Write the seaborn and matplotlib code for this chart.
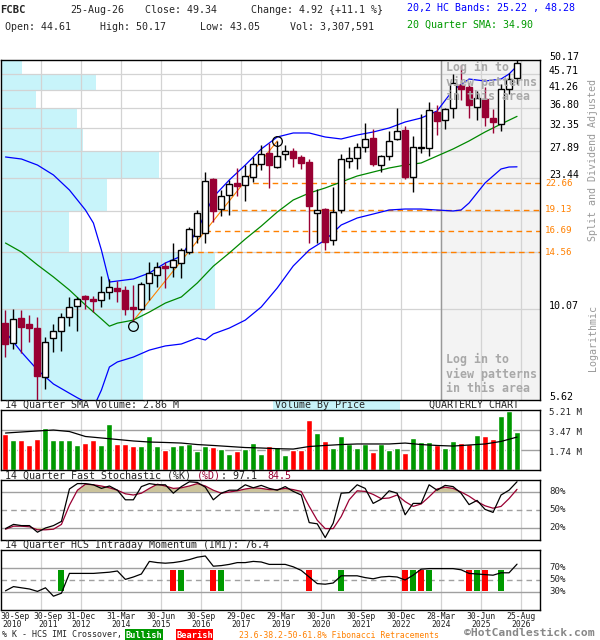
import numpy as np
import matplotlib
matplotlib.use("Agg")
import matplotlib.pyplot as plt
from matplotlib.patches import Rectangle
import seaborn as sns

sns.set_style("white")
plt.rcParams['font.family'] = ['DejaVu Sans Mono', 'DejaVu Sans']

## Quarterly candles, 30-Sep-2010 .. 25-Aug-2026 (split and dividend adjusted)
opens = [9.22, 8.11, 9.53, 9.16, 8.93, 6.52, 8.38, 8.76, 9.59, 10.29,
         10.98, 10.77, 10.70, 11.26, 11.56, 11.41, 10.23, 10.10, 11.94, 12.57,
         13.32, 13.23, 13.58, 14.57, 16.15, 16.47, 23.32, 19.22, 21.03, 22.73,
         22.44, 23.62, 25.68, 27.57, 25.19, 27.40, 27.93, 26.87, 26.01, 18.73,
         19.22, 15.74, 19.10, 26.18, 26.70, 28.65, 30.36, 25.51, 27.04, 30.17,
         31.97, 23.62, 28.47, 28.47, 35.89, 34.09, 36.83, 42.70, 42.16, 37.07,
         39.03, 34.53, 33.22, 41.62, 44.61]
highs = [10.03, 10.10, 10.03, 9.71, 9.59, 8.43, 9.16, 9.84, 10.91, 10.91,
         11.05, 10.98, 12.49, 12.25, 12.09, 11.71, 11.78, 12.01, 13.66, 13.66,
         13.66, 15.44, 14.95, 17.12, 19.10, 24.39, 23.47, 21.72, 23.17, 25.03,
         25.51, 26.87, 29.03, 29.41, 29.78, 29.03, 28.47, 27.22, 26.52, 21.86,
         19.30, 22.15, 27.40, 28.65, 29.41, 33.44, 32.18, 27.22, 31.77, 36.83,
         32.80, 30.76, 35.44, 38.28, 37.55, 36.80, 45.84, 48.58, 43.26, 41.10,
         42.16, 36.60, 42.98, 46.14, 50.17]
lows = [7.41, 7.80, 7.60, 8.16, 5.62, 6.03, 7.65, 7.70, 9.04, 8.76,
        10.10, 9.90, 10.23, 10.77, 10.56, 9.71, 9.36, 10.03, 10.70, 11.63,
        11.56, 12.41, 12.33, 14.40, 15.44, 15.44, 17.68, 18.38, 18.49, 20.90,
        20.24, 22.87, 24.71, 22.01, 25.03, 26.35, 25.19, 24.87, 15.44, 15.44,
        14.76, 15.24, 18.73, 25.03, 24.87, 27.75, 25.35, 24.39, 26.35, 29.98,
        23.32, 21.44, 27.57, 27.04, 30.95, 32.18, 34.53, 38.78, 34.53, 34.09,
        32.80, 31.36, 31.77, 40.31, 43.05]
closes = [8.06, 9.47, 8.99, 8.93, 6.56, 8.16, 8.76, 9.59, 10.23, 10.77,
          10.77, 10.63, 11.26, 11.63, 11.34, 10.10, 10.10, 11.86, 12.73, 13.23,
          13.14, 13.84, 14.76, 16.90, 18.73, 23.02, 18.98, 20.90, 22.58, 22.29,
          23.77, 25.68, 27.40, 25.51, 27.04, 27.93, 26.70, 25.85, 19.60, 19.10,
          15.54, 18.85, 26.52, 26.70, 28.65, 30.17, 25.68, 27.04, 29.79, 31.77,
          23.62, 28.65, 28.65, 36.36, 33.87, 36.60, 43.26, 41.62, 37.55, 39.28,
          34.76, 33.66, 41.62, 44.42, 49.34]
# volume, millions of shares per quarter
volume = [3.13, 2.61, 2.61, 2.17, 2.69, 3.65, 2.61, 2.61, 2.61, 2.17,
          2.32, 2.61, 2.17, 4.00, 2.26, 2.26, 2.08, 2.08, 2.95, 2.08,
          1.74, 2.08, 2.17, 2.26, 1.68, 2.08, 1.97, 1.82, 1.39, 1.65,
          1.82, 2.35, 1.39, 2.08, 1.97, 1.30, 1.74, 1.74, 4.34, 3.21,
          2.52, 1.94, 2.95, 2.23, 1.94, 2.23, 1.59, 2.23, 1.74, 1.94,
          1.50, 2.81, 2.46, 2.46, 2.17, 1.94, 2.52, 2.37, 2.26, 3.04,
          2.95, 2.69, 4.69, 5.12, 3.31]

## 20,2 HC bands and 20 quarter SMA
upper_idx = [0, 2, 4, 6, 8, 9, 10, 11, 12, 13, 14, 16, 18, 20, 22, 24, 26, 28, 30, 32,
             34, 36, 38, 40, 42, 44, 46, 48, 50, 52, 54, 56, 58, 60, 62, 63, 64]
upper_band = [26.87, 26.52, 25.51, 23.93, 21.72, 20.37, 19.10, 17.56, 14.76, 12.01, 12.09,
              12.25, 12.73, 13.58, 14.19, 16.79, 20.77, 23.17, 25.51, 28.29, 30.56, 31.36,
              31.36, 30.56, 30.17, 30.95, 31.56, 32.38, 33.66, 34.53, 36.13, 41.36, 44.38,
              43.82, 44.38, 45.84, 48.28]
lower_idx = [0, 2, 4, 6, 8, 9, 10, 11, 12, 13, 14, 16, 18, 20, 22, 24, 25, 26, 28, 30,
             32, 34, 36, 38, 40, 42, 44, 46, 48, 50, 52, 54, 56, 57, 58, 60, 62, 63, 64]
lower_band = [8.71, 7.65, 6.82, 6.23, 5.87, 5.70, 5.55, 5.35, 5.99, 6.95, 7.18, 7.41, 7.75,
              7.96, 8.06, 8.38, 8.27, 8.60, 8.93, 9.40, 10.23, 11.56, 13.32, 14.76, 15.74,
              17.34, 18.14, 18.61, 19.10, 19.22, 19.22, 19.10, 18.98, 19.10, 19.98, 22.73,
              24.87, 25.19, 25.22]
sma_idx = [0, 2, 4, 6, 8, 10, 12, 13, 14, 16, 18, 20, 22, 24, 26, 28, 30, 32, 34, 36,
           38, 40, 42, 44, 46, 48, 50, 52, 54, 56, 58, 60, 62, 64]
sma20 = [15.44, 14.57, 13.41, 12.41, 11.41, 10.36, 9.47, 9.04, 9.22, 9.40, 9.90, 10.49,
         10.91, 11.94, 13.30, 14.48, 15.84, 17.22, 18.85, 20.37, 21.30, 22.01, 22.87, 23.77,
         24.39, 25.03, 25.51, 25.85, 27.04, 28.29, 29.79, 31.56, 33.22, 34.90]

## 14 quarter volume SMA, every other quarter
vol_sma_idx = list(range(0, 65, 2))
vol_sma = [3.21, 3.30, 3.39, 3.47, 3.34, 2.91, 2.78, 2.65, 2.52, 2.43, 2.39, 2.34, 2.21,
           2.13, 2.04, 1.95, 1.91, 1.85, 1.82, 2.04, 2.13, 2.21, 2.26, 2.26, 2.26, 2.34,
           2.21, 2.13, 2.08, 2.17, 2.26, 2.48, 2.86]

## 14 quarter fast stochastic
stoch_k = [19, 26, 24, 24, 13, 20, 24, 31, 85, 94, 94, 92, 86, 90, 83, 67, 67, 89, 94, 92,
           92, 78, 89, 97, 96, 88, 67, 78, 83, 83, 92, 87, 91, 86, 83, 89, 81, 75, 29, 27,
           4, 28, 78, 79, 92, 86, 61, 68, 82, 78, 42, 61, 61, 92, 83, 91, 89, 78, 59, 66,
           51, 46, 75, 83, 97.1]
stoch_d = [18, 23, 23, 22, 17, 17, 18, 26, 58, 83, 93, 92, 90, 87, 83, 77, 75, 78, 86, 93,
           90, 86, 87, 90, 94, 90, 83, 78, 80, 82, 85, 87, 86, 84, 84, 86, 84, 81, 56, 33,
           19, 19, 39, 67, 82, 81, 76, 69, 70, 75, 64, 56, 60, 72, 85, 88, 86, 80, 73, 64,
           57, 53, 56, 69, 84.5]

## 14 quarter HCS intraday momentum and %K / IMI crossovers
imi = [32, 39, 37, 35, 31, 37, 23, 28, 61, 61, 61, 61, 62, 63, 65, 51, 55, 60, 81, 79,
       78, 79, 81, 84, 88, 90, 73, 74, 76, 79, 79, 81, 80, 76, 76, 76, 72, 66, 55, 44,
       43, 45, 57, 57, 57, 54, 52, 55, 56, 55, 50, 58, 68, 69, 69, 69, 69, 67, 61, 60,
       59, 58, 62, 62, 76.4]
bullish_idx = [7, 22, 27, 42, 51, 53, 59, 62]
bearish_idx = [21, 26, 38, 50, 52, 58, 60]

## Volume by price, one bin per price grid band (bottom to top), millions
price_grid = [5.62, 10.07, 14.53, 18.98, 23.44, 27.89, 32.35, 36.80, 41.26, 45.71, 50.17]
vbp_volume = [33.4, 50.2, 15.9, 25.0, 37.1, 19.4, 18.0, 8.2, 22.4, 5.1]

## Fibonacci retracement swing and levels
fib_low_idx, fib_high_idx = 16, 34
fib_ratios = [0.236, 0.382, 0.5, 0.618]
fib_levels = [22.66, 19.13, 16.69, 14.56]

label_idx = [0, 4, 9, 14, 19, 24, 29, 34, 39, 44, 49, 54, 59, 64]
label_dates = ["30-Sep", "30-Sep", "31-Dec", "31-Mar", "30-Jun", "30-Sep", "29-Dec",
               "29-Mar", "30-Jun", "30-Sep", "30-Dec", "28-Mar", "30-Jun", "25-Aug"]
label_years = ["2010", "2011", "2012", "2014", "2015", "2016", "2017", "2019", "2020",
               "2021", "2022", "2024", "2025", "2026"]

opens = np.array(opens); highs = np.array(highs)
lows = np.array(lows); closes = np.array(closes)
n = len(closes)
idx = np.arange(n)
up = closes >= opens

CRIMSON = '#990033'
GREEN = '#009900'
RED = '#ff0000'
ORANGE = '#ff8000'
GRID = '#d3d3d3'
CYAN = '#c8f4fa'
FS = 7.2

W, H = 600, 640
fig = plt.figure(figsize=(6, 6.4), dpi=100)


def px_axes(x0, y0, x1, y1):
    return fig.add_axes([x0 / W, 1 - y1 / H, (x1 - x0) / W, (y1 - y0) / H])


def ftext(x, y, s, **kw):
    kw.setdefault('fontsize', FS)
    kw.setdefault('va', 'center')
    return fig.text(x / W, 1 - y / H, s, **kw)


ax = px_axes(0.5, 60, 540, 400)
ax_v = px_axes(0.5, 410, 540, 470)
ax_s = px_axes(0.5, 480, 540, 540)
ax_i = px_axes(0.5, 550, 540, 610)
XMIN, XMAX = -0.625, 66.875
grid_x = [i + 0.5 for i in label_idx[1:]]

for a in (ax, ax_v, ax_s, ax_i):
    a.set_xlim(XMIN, XMAX)
    a.set_facecolor('white')
    for s in a.spines.values():
        s.set_color('black')
        s.set_linewidth(1)
    for gx in grid_x:
        a.axvline(gx, color=GRID, lw=0.9, zorder=0.5)

## ---------------- price panel ----------------
ax.set_yscale('log')
ax.set_ylim(price_grid[0], price_grid[-1])
ax.axvspan(54.5, XMAX, color='#f3f3f3', zorder=0.1)
ax.axvline(54.5, color='#999999', lw=1, zorder=0.6)

vbp_max = max(vbp_volume)
for k, v in enumerate(vbp_volume):
    w = v / vbp_max * 0.398 * (XMAX - XMIN)
    ax.add_patch(Rectangle((XMIN, price_grid[k]), w, price_grid[k + 1] - price_grid[k],
                           facecolor=CYAN, edgecolor='none', zorder=0.2))
for p in price_grid[1:-1]:
    ax.axhline(p, color=GRID, lw=0.9, zorder=0.5)

# fibonacci retracements
lo, hi = lows[fib_low_idx], highs[fib_high_idx]
ax.plot([fib_low_idx, fib_high_idx], [lo, hi], color=ORANGE, lw=0.8, zorder=1.5)
for r, lev in zip(fib_ratios, fib_levels):
    x0 = fib_low_idx + (1 - r) * (fib_high_idx - fib_low_idx)
    ax.plot([x0, XMAX], [lev, lev], color=ORANGE, lw=1, ls=(0, (4, 3)), zorder=1)
    ax.annotate(f"{lev:.2f}", xy=(1, lev), xycoords=('axes fraction', 'data'),
                xytext=(3.6, 0), textcoords='offset points', ha='left', va='center',
                fontsize=FS - 0.6, color=ORANGE, annotation_clip=False)

sns.lineplot(x=upper_idx, y=upper_band, ax=ax, color='#0000ff', lw=0.9, zorder=2)
sns.lineplot(x=lower_idx, y=lower_band, ax=ax, color='#0000ff', lw=0.9, zorder=2)
sns.lineplot(x=sma_idx, y=sma20, ax=ax, color='#008800', lw=0.9, zorder=2)

# candles
bw = 0.75
for i in idx:
    col = 'black' if up[i] else CRIMSON
    ax.vlines(i, lows[i], highs[i], color=col, lw=1, zorder=3)
    b0, b1 = min(opens[i], closes[i]), max(opens[i], closes[i])
    if up[i]:
        ax.add_patch(Rectangle((i - bw / 2, b0), bw, b1 - b0, facecolor='white',
                               edgecolor='black', lw=1, zorder=3.1))
    else:
        ax.add_patch(Rectangle((i - bw / 2, b0), bw, b1 - b0, facecolor=CRIMSON,
                               edgecolor=CRIMSON, lw=1, zorder=3.1))
ax.plot([fib_low_idx], [lo * 0.965], marker='o', ms=7, mfc='none', mec='black', mew=0.9, zorder=4)
ax.plot([fib_high_idx], [hi], marker='o', ms=7, mfc='none', mec='black', mew=0.9, zorder=4)

for p in price_grid:
    if p in (14.53, 18.98):
        continue
    ax.annotate(f"{p:.2f}", xy=(1, p), xycoords=('axes fraction', 'data'),
                xytext=(6.5, 2.2), textcoords='offset points', ha='left', va='center',
                fontsize=FS, color='black', annotation_clip=False)
ax.set_xticks([]); ax.set_yticks([]); ax.minorticks_off()
ax.set_xlabel(''); ax.set_ylabel('')

for lines, y0 in ((["Log in to", "view patterns", "in this area"], 67),
                  (["Log in to", "view patterns", "in this area"], 359)):
    for k, s in enumerate(lines):
        ftext(446, y0 + 15 * k, s, fontsize=8.4, fontweight='bold', color='#a8a8a8',
              ha='left', zorder=10)

## ---------------- volume panel ----------------
ax_v.set_ylim(0, 5.21)
ax_v.bar(idx, volume, width=0.75, color=np.where(up, GREEN, RED), zorder=2)
sns.lineplot(x=vol_sma_idx, y=vol_sma, ax=ax_v, color='black', lw=0.9, zorder=3)
for v in (1.74, 3.47):
    ax_v.axhline(v, color='#a0a0a0', lw=1, zorder=0.6)
for v in (5.21, 3.47, 1.74):
    ax_v.annotate(f"{v:.2f} M", xy=(1, v), xycoords=('axes fraction', 'data'),
                  xytext=(6.5, -1.5), textcoords='offset points', ha='left', va='center',
                  fontsize=FS - 0.6, annotation_clip=False)
ax_v.set_xticks([]); ax_v.set_yticks([]); ax_v.set_xlabel(''); ax_v.set_ylabel('')

## ---------------- stochastic panel ----------------
ax_s.set_ylim(0, 100)
for v in (20, 80):
    ax_s.axhline(v, color='#a0a0a0', lw=1, zorder=0.6)
ax_s.axhline(50, color='#a0a0a0', lw=1, ls=(0, (4, 3)), zorder=0.6)
d = np.array(stoch_d)
ax_s.fill_between(idx, 80, d, where=d >= 80, interpolate=True, color='#cbc39b', lw=0, zorder=1)
ax_s.fill_between(idx, 20, d, where=d <= 20, interpolate=True, color='#cbc39b', lw=0, zorder=1)
sns.lineplot(x=idx, y=stoch_d, ax=ax_s, color=CRIMSON, lw=0.9, zorder=2)
sns.lineplot(x=idx, y=stoch_k, ax=ax_s, color='black', lw=0.9, zorder=3)
for v in (80, 50, 20):
    ax_s.annotate(f"{v}%", xy=(1, v), xycoords=('axes fraction', 'data'),
                  xytext=(7, 0), textcoords='offset points', ha='left', va='center',
                  fontsize=FS - 0.6, annotation_clip=False)
ax_s.set_xticks([]); ax_s.set_yticks([]); ax_s.set_xlabel(''); ax_s.set_ylabel('')

## ---------------- IMI panel ----------------
ax_i.set_ylim(0, 100)
for v in (30, 70):
    ax_i.axhline(v, color='#a0a0a0', lw=1, zorder=0.6)
ax_i.axhline(50, color='#a0a0a0', lw=1, ls=(0, (4, 3)), zorder=0.6)
for lst, col in ((bullish_idx, GREEN), (bearish_idx, RED)):
    for i in lst:
        ax_i.add_patch(Rectangle((i - 0.375, 31.5), 0.75, 35, facecolor=col,
                                 edgecolor='none', zorder=1.5))
sns.lineplot(x=idx, y=imi, ax=ax_i, color='black', lw=0.9, zorder=3)
for v in (70, 50, 30):
    ax_i.annotate(f"{v}%", xy=(1, v), xycoords=('axes fraction', 'data'),
                  xytext=(7, 0), textcoords='offset points', ha='left', va='center',
                  fontsize=FS - 0.6, annotation_clip=False)
ax_i.set_xticks([]); ax_i.set_yticks([]); ax_i.set_xlabel(''); ax_i.set_ylabel('')

# date labels under the last panel
for k, (i, dt, yr) in enumerate(zip(label_idx, label_dates, label_years)):
    if k == 0:
        xy, ha, dx = (0, 0), 'left', 0
        xc = ('axes fraction', 'axes fraction')
    else:
        xy, ha, dx = (i + 0.5, 0), 'center', (4.5 if k == 1 else 0)
        xc = ('data', 'axes fraction')
    ax_i.annotate(dt, xy=xy, xycoords=xc, xytext=(dx, -4.4), textcoords='offset points',
                  ha=ha, va='center', fontsize=5.9, color='#222222', annotation_clip=False)
    ax_i.annotate(yr, xy=xy, xycoords=xc, xytext=(dx + (1.5 if k == 0 else 0), -10.2),
                  textcoords='offset points', ha=ha, va='center', fontsize=5.9,
                  color='#222222', annotation_clip=False)

## ---------------- header and panel titles ----------------
ftext(0, 10, "FCBC", fontweight='bold', fontsize=7.6)
ftext(70, 10, "25-Aug-26")
ftext(145, 10, "Close: 49.34")
ftext(251, 10, "Change: 4.92 {+11.1 %}")
ftext(5, 27, "Open: 44.61")
ftext(100, 27, "High: 50.17")
ftext(200, 27, "Low: 43.05")
ftext(290, 27, "Vol: 3,307,591")
ftext(407, 8, "20,2 HC Bands: 25.22 , 48.28", color='#0000ff')
ftext(407, 25, "20 Quarter SMA: 34.90", color='#009900')

ftext(593, 160, "Split and Dividend Adjusted", rotation=90, ha='center', color='#999999')
ftext(593, 338, "Logarithmic", rotation=90, ha='center', color='#999999')

ftext(5, 405, "14 Quarter SMA Volume: 2.86 M")
fig.add_artist(Rectangle((273 / W, 1 - 410 / H), 127 / W, 10 / H, transform=fig.transFigure,
                         facecolor=CYAN, edgecolor='none', zorder=0))
ftext(275, 405, "Volume By Price")
ftext(429, 405, "QUARTERLY CHART")

ftext(5, 476, "14 Quarter Fast Stochastic (%K)")
ftext(197, 476, "(%D)", color=CRIMSON)
ftext(221, 476, ": 97.1")
ftext(267, 476, "84.5", color=CRIMSON)
ftext(5, 545, "14 Quarter HCS Intraday Momentum (IMI): 76.4")

ftext(2, 635, "% K - HCS IMI Crossover,", fontsize=6)
fig.add_artist(Rectangle((125 / W, 1 - 641 / H), 38 / W, 12 / H, transform=fig.transFigure,
                         facecolor=GREEN, edgecolor='none'))
ftext(144, 635, "Bullish", fontsize=6.2, color='white', ha='center', fontweight='bold')
fig.add_artist(Rectangle((176 / W, 1 - 641 / H), 37 / W, 12 / H, transform=fig.transFigure,
                         facecolor=RED, edgecolor='none'))
ftext(194.5, 635, "Bearish", fontsize=6.2, color='white', ha='center', fontweight='bold')
ftext(239, 635, "23.6-38.2-50-61.8% Fibonacci Retracements", fontsize=5.9, color=ORANGE)
ftext(464, 633, "\u00a9HotCandlestick.com", fontsize=8.2, color='#888888', fontweight='bold')

fig.savefig("out.png", dpi=100)
